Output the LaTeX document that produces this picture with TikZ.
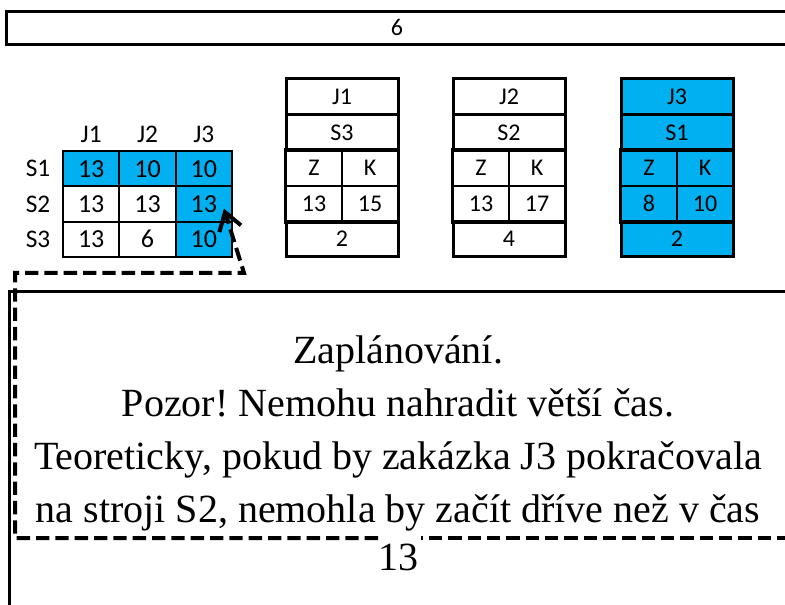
\documentclass[tikz,border=0pt]{standalone}
\usepackage{fontspec}
\setmainfont{Liberation Serif}
\newfontfamily\calibri{Carlito}
\usepackage{xcolor}
\usetikzlibrary{arrows.meta}
\definecolor{cellblue}{HTML}{00B0F0}
\frenchspacing

\begin{document}
\begin{tikzpicture}[
  x=0.75pt,y=-0.75pt,
  cell/.style={draw,line width=1.5pt,minimum width=42.2pt,minimum height=26.5pt,
               inner sep=0pt,font=\calibri\fontsize{19.5}{22}\selectfont},
  hot/.style={cell,fill=cellblue},
  head/.style={inner sep=0pt,font=\calibri\fontsize{19}{22}\selectfont},
  cardrow/.style={draw,line width=2.25pt,minimum width=84pt,minimum height=26.7pt,
                  inner sep=0pt,font=\calibri\fontsize{18}{21}\selectfont},
  cardhalf/.style={draw,line width=1.2pt,minimum width=42pt,minimum height=26.7pt,
                   inner sep=0pt,font=\calibri\fontsize{18}{21}\selectfont},
  pick/.style={fill=cellblue},
  frame/.style={line width=2.25pt},
  hint/.style={line width=3pt,dash pattern=on 10pt off 4.5pt}
]
\useasboundingbox (0,0) rectangle (785,605);

\node[draw,line width=2.25pt,minimum width=585.75pt,minimum height=25.1pt,inner sep=0pt,
      font=\calibri\fontsize{18}{21}\selectfont] (total) at (397,27.75) {6};

% processing times
\node[head] (hj1) at (91.2,134) {J1};
\node[head] (hj2) at (147.5,134) {J2};
\node[head] (hj3) at (203.8,134) {J3};
\node[head] (hs1) at (38,168.7) {S1};
\node[head] (hs2) at (38,204) {S2};
\node[head] (hs3) at (38,239.3) {S3};
\node[hot] (c11) at (91.2,168.7) {13};
\node[hot] (c12) at (147.5,168.7) {10};
\node[hot] (c13) at (203.8,168.7) {10};
\node[cell] (c21) at (91.2,204) {13};
\node[cell] (c22) at (147.5,204) {13};
\node[hot] (c23) at (203.8,204) {13};
\node[cell] (c31) at (91.2,239.3) {13};
\node[cell] (c32) at (147.5,239.3) {6};
\node[hot] (c33) at (203.8,239.3) {10};

% job J1
\node[cardhalf] (z1) at (314,168) {Z};
\node[cardhalf] (k1) at (370,168) {K};
\node[cardhalf] (zs1) at (314,203.6) {13};
\node[cardhalf] (ke1) at (370,203.6) {15};
\node[cardrow] (j1) at (342,96.8) {J1};
\node[cardrow] (m1) at (342,132.4) {S3};
\node[cardrow] (d1) at (342,239.2) {2};
\draw[frame] (z1.north west) rectangle (ke1.south east);

% job J2
\node[cardhalf] (z2) at (481,168) {Z};
\node[cardhalf] (k2) at (537,168) {K};
\node[cardhalf] (zs2) at (481,203.6) {13};
\node[cardhalf] (ke2) at (537,203.6) {17};
\node[cardrow] (j2) at (509,96.8) {J2};
\node[cardrow] (m2) at (509,132.4) {S2};
\node[cardrow] (d2) at (509,239.2) {4};
\draw[frame] (z2.north west) rectangle (ke2.south east);

% job J3
\node[cardhalf,pick] (z3) at (649,168) {Z};
\node[cardhalf,pick] (k3) at (705,168) {K};
\node[cardhalf,pick] (zs3) at (649,203.6) {8};
\node[cardhalf,pick] (ke3) at (705,203.6) {10};
\node[cardrow,pick] (j3) at (677,96.8) {J3};
\node[cardrow,pick] (m3) at (677,132.4) {S1};
\node[cardrow,pick] (d3) at (677,239.2) {2};
\draw[frame] (z3.north west) rectangle (ke3.south east);

\draw[frame] (9.5,610) -- (9.5,292) -- (790,292);

\node[align=center,anchor=base,inner sep=0pt,font=\fontsize{30}{39.8}\selectfont] (note) at (398,570)
  {Zaplánování.\\Pozor! Nemohu nahradit větší čas.\\Teoreticky, pokud by zakázka J3 pokračovala\\na stroji S2, nemohla by začít dříve než v čas\\[-4.5pt]13};

\coordinate (gapl) at (378,538);
\coordinate (gapr) at (421,538);
\coordinate (corner) at (244,273);
\draw[hint,-{Straight Barb[length=13pt,width=17pt,line width=3pt]}] (gapl) -- (15,538) -- (15,273) -- (corner)
  -- ([shift={(-9,-14)}]c23.south east);
\draw[hint,dash phase=8.5pt] (gapr) -- (790,538);
\end{tikzpicture}
\end{document}
